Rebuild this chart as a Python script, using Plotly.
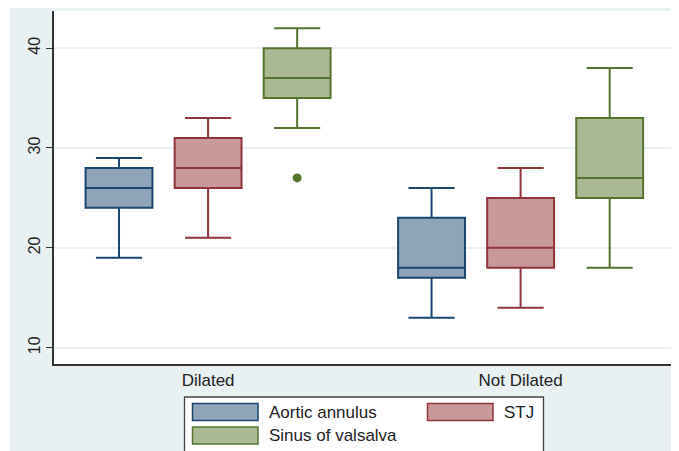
import plotly.graph_objects as go

groups = ["Dilated", "Not Dilated"]
series = ["Aortic annulus", "STJ", "Sinus of valsalva"]

# per series: [Dilated, Not Dilated]
lower = {"Aortic annulus": [19, 13], "STJ": [21, 14], "Sinus of valsalva": [32, 18]}
q1 = {"Aortic annulus": [24, 17], "STJ": [26, 18], "Sinus of valsalva": [35, 25]}
median = {"Aortic annulus": [26, 18], "STJ": [28, 20], "Sinus of valsalva": [37, 27]}
q3 = {"Aortic annulus": [28, 23], "STJ": [31, 25], "Sinus of valsalva": [40, 33]}
upper = {"Aortic annulus": [29, 26], "STJ": [33, 28], "Sinus of valsalva": [42, 38]}

outlier_series = "Sinus of valsalva"
outlier_group = "Dilated"
outlier_value = [27]

line_colors = {"Aortic annulus": "#1a476f", "STJ": "#90353b", "Sinus of valsalva": "#55752f"}
fill_colors = {"Aortic annulus": "#8fa4b8", "STJ": "#c8989b", "Sinus of valsalva": "#abb894"}

offsets = {"Aortic annulus": -0.285, "STJ": 0.0, "Sinus of valsalva": 0.285}
group_pos = {g: i for i, g in enumerate(groups)}

# page body has an 8px margin; the figure is sized to fill the rest of the window
OFF = 8
W, H = 679 - OFF, 451 - OFF
ML, MR, MT, MB = 54 - OFF, 4, 11 - OFF, 87
PW, PH = W - ML - MR, H - MT - MB


def px(x):
    # window pixel -> paper x
    return (x - OFF - ML) / PW


def py(y):
    # window pixel -> paper y
    return (H - MB - (y - OFF)) / PH


fig = go.Figure()
for s in series:
    xs = [group_pos[g] + offsets[s] for g in groups]
    fig.add_trace(go.Box(
        name=s, x=xs,
        q1=q1[s], median=median[s], q3=q3[s],
        lowerfence=lower[s], upperfence=upper[s],
        width=0.214, whiskerwidth=0.69,
        fillcolor=fill_colors[s],
        line=dict(color=line_colors[s], width=2),
        boxpoints=False, hoverinfo="skip", showlegend=False,
    ))

fig.add_trace(go.Scatter(
    x=[group_pos[outlier_group] + offsets[outlier_series]] * len(outlier_value),
    y=outlier_value, mode="markers",
    marker=dict(color=line_colors[outlier_series], size=9),
    showlegend=False, hoverinfo="skip",
))

shapes = [
    dict(type="rect", xref="paper", yref="paper", x0=px(10), x1=px(680),
         y0=py(452), y1=py(6), fillcolor="#e8f0f2", line=dict(width=0), layer="below"),
    dict(type="rect", xref="paper", yref="paper", x0=0, x1=1, y0=0, y1=1,
         fillcolor="white", line=dict(width=0), layer="below"),
    # legend box
    dict(type="rect", xref="paper", yref="paper", x0=px(184.5), x1=px(543.5),
         y0=py(453), y1=py(397), fillcolor="white", line=dict(color="#444", width=1.3)),
]
annotations = []
# legend entries: (series, swatch left px, top px)
legend_slots = [("Aortic annulus", 192.5, 403.5), ("STJ", 427.5, 403.5), ("Sinus of valsalva", 192.5, 427)]
for s, lx, ty in legend_slots:
    shapes.append(dict(type="rect", xref="paper", yref="paper", x0=px(lx), x1=px(lx + 65.5),
                       y0=py(ty + 17), y1=py(ty), fillcolor=fill_colors[s],
                       line=dict(color=line_colors[s], width=1.5)))
    annotations.append(dict(xref="paper", yref="paper", x=px(lx + 74.5), y=py(ty + 8.5),
                            text=s, showarrow=False, xanchor="left", yanchor="middle",
                            font=dict(size=17, color="#222")))

fig.update_layout(
    width=W, height=H,
    margin=dict(l=ML, r=MR, t=MT, b=MB, autoexpand=False),
    paper_bgcolor="white",
    plot_bgcolor="rgba(0,0,0,0)",
    font=dict(family="Liberation Sans, Arial, sans-serif", color="#222"),
    showlegend=False,
    shapes=shapes,
    annotations=annotations,
)

fig.update_xaxes(
    range=[-0.493, 1.494], tickvals=[0, 1], ticktext=groups,
    showgrid=False, zeroline=False, showline=True, linecolor="#333", linewidth=1.5,
    ticks="", tickfont=dict(size=17, color="#222"), automargin=False,
)
fig.update_yaxes(
    range=[8.36, 43.72], tickvals=[10, 20, 30, 40],
    showgrid=True, gridcolor="#e8f0f2", gridwidth=1.5, zeroline=False,
    showline=True, linecolor="#333", linewidth=1.5,
    ticks="outside", ticklen=6, tickcolor="#333", tickangle=-90,
    tickfont=dict(size=16, color="#222"), automargin=False,
)

fig.write_html("out.html")
